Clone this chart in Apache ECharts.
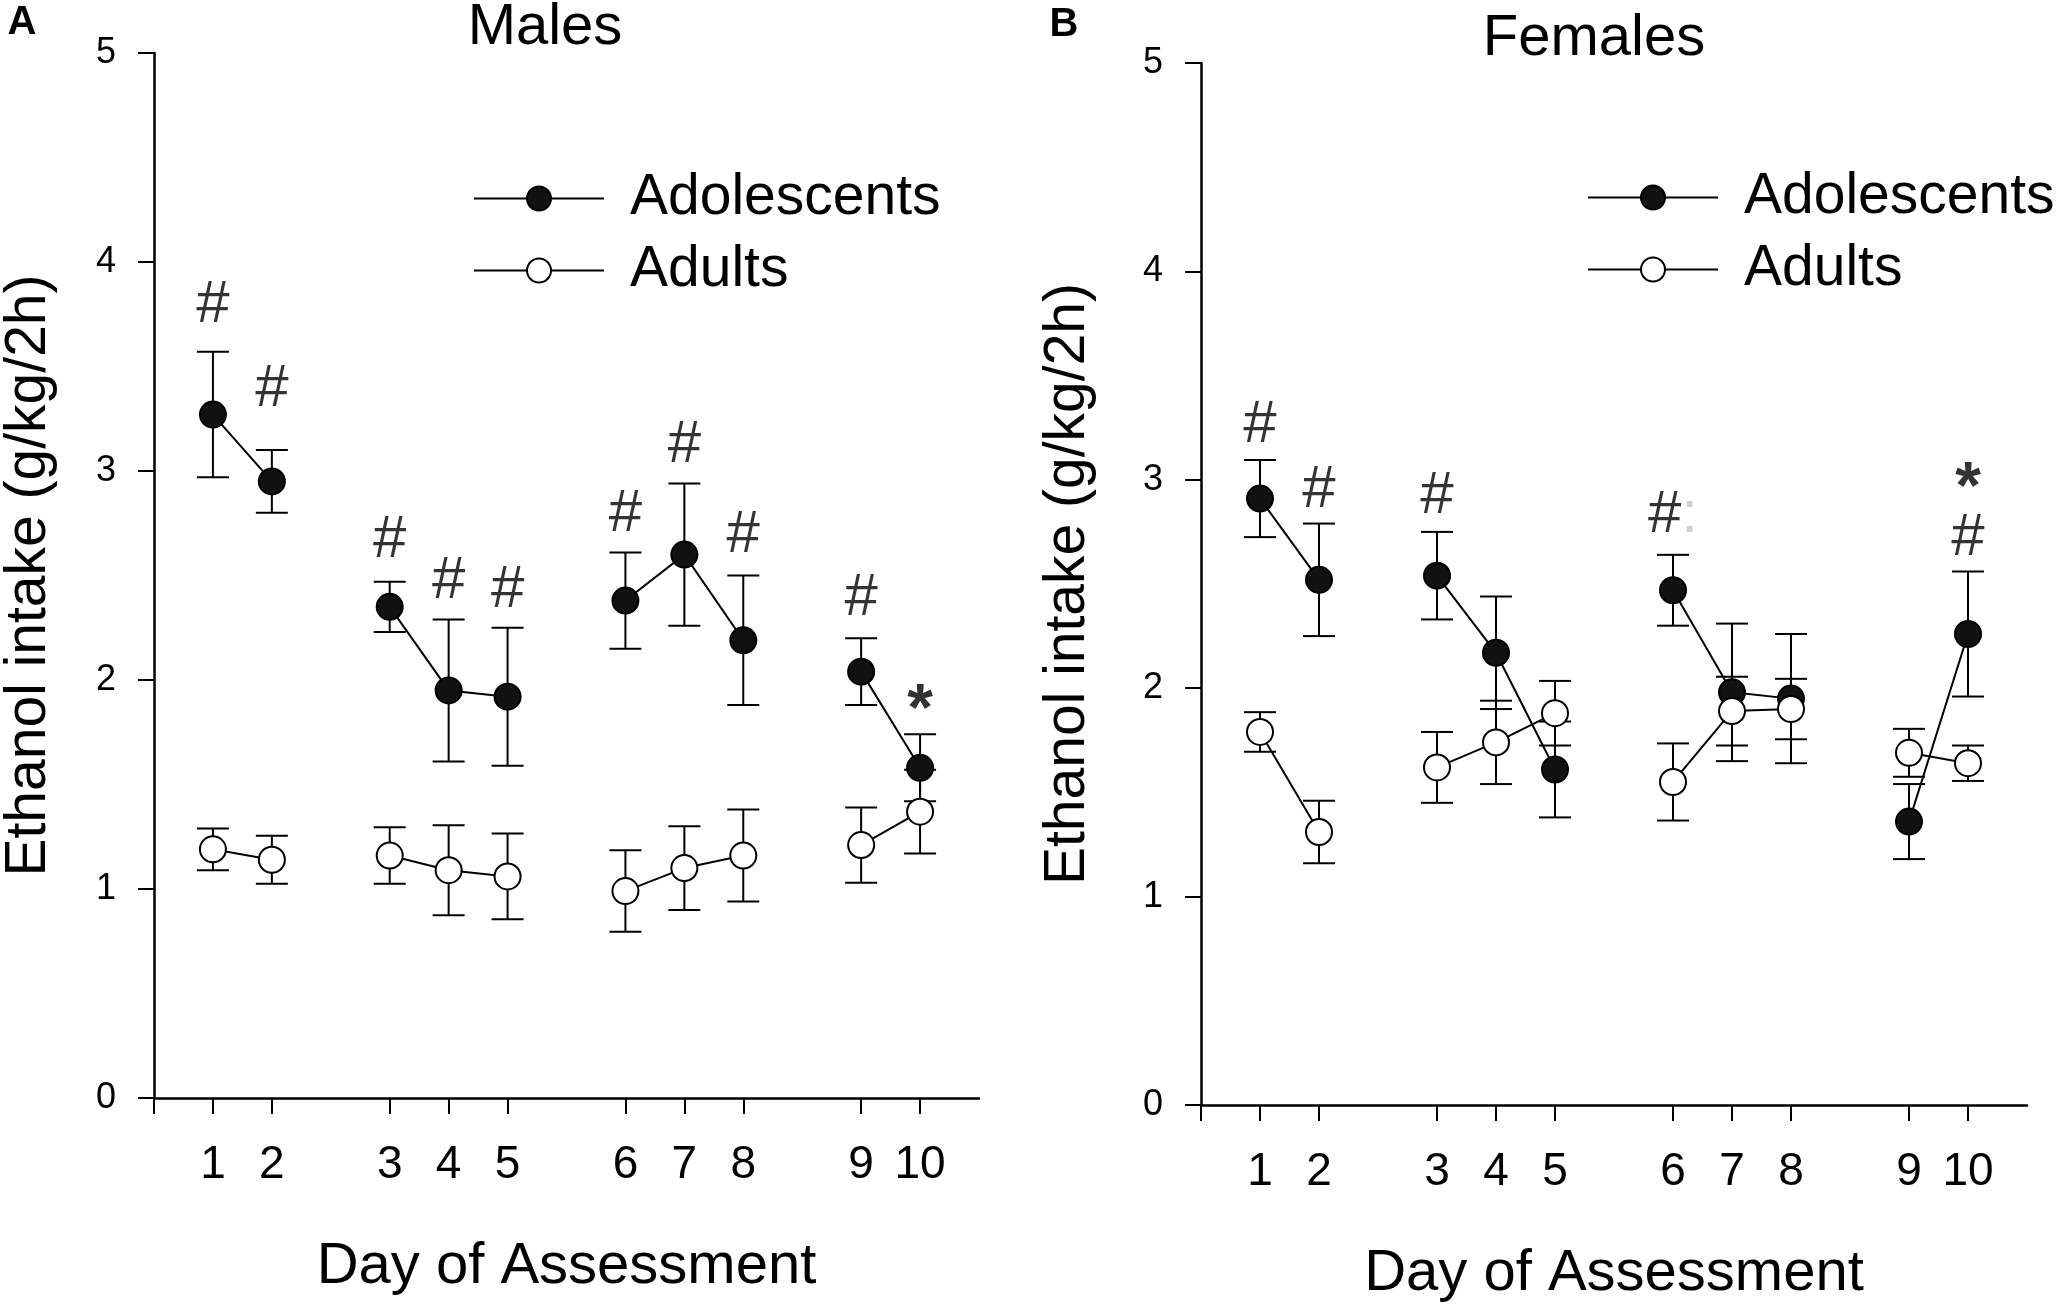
<!DOCTYPE html>
<html style="height: 100%">
<head>
    <meta charset="utf-8">
    <title>Ethanol intake - Males / Females</title>
    <script src="https://cdn.jsdelivr.net/npm/echarts@6/dist/echarts.min.js"></script>
</head>
<body style="height: 100%; margin: 0; background: #fff">
<div id="container" style="width: 2058px; height: 1308px"></div>
<script type="text/javascript">

// days and where they sit on the x axis (gaps between weeks)
var days = [1, 2, 3, 4, 5, 6, 7, 8, 9, 10];
var slots = [1, 2, 4, 5, 6, 8, 9, 10, 12, 13];
var tickSlots = [0, 1, 2, 4, 5, 6, 8, 9, 10, 12, 13];
var yTicks = [0, 1, 2, 3, 4, 5];

// Males (panel A): means and SEM
var maleAdol = [3.27, 2.95, 2.35, 1.95, 1.92, 2.38, 2.60, 2.19, 2.04, 1.58];
var maleAdolErr = [0.30, 0.15, 0.12, 0.34, 0.33, 0.23, 0.34, 0.31, 0.16, 0.16];
var maleAdult = [1.19, 1.14, 1.16, 1.09, 1.06, 0.99, 1.10, 1.16, 1.21, 1.37];
var maleAdultErr = [0.10, 0.115, 0.135, 0.215, 0.205, 0.195, 0.20, 0.22, 0.18, 0.20];

// Females (panel B)
var femAdol = [2.91, 2.52, 2.54, 2.17, 1.61, 2.47, 1.98, 1.95, 1.36, 2.26];
var femAdolErr = [0.185, 0.27, 0.21, 0.27, 0.23, 0.17, 0.33, 0.31, 0.18, 0.30];
var femAdult = [1.79, 1.31, 1.62, 1.74, 1.88, 1.55, 1.89, 1.90, 1.69, 1.64];
var femAdultErr = [0.095, 0.15, 0.17, 0.20, 0.155, 0.185, 0.165, 0.145, 0.115, 0.085];

// significance marks: [day, y, text]
var maleMarks = [[1, 3.79, '#'], [2, 3.39, '#'], [3, 2.67, '#'], [4, 2.47, '#'], [5, 2.43, '#'],
                 [6, 2.79, '#'], [7, 3.12, '#'], [8, 2.69, '#'], [9, 2.39, '#'], [10, 1.85, '*']];
var femMarks = [[1, 3.26, '#'], [2, 2.95, '#'], [3, 2.92, '#'], [6, 2.83, '#:'],
                [10, 2.95, '*'], [10, 2.72, '#']];

var FONT = 'Liberation Sans, Arial, sans-serif';
var dom = document.getElementById('container');
var myChart = echarts.init(dom);

function slotOf(day) {
    return slots[days.indexOf(day)];
}

// line data with breaks between weeks
function lineData(vals) {
    var out = [];
    for (var s = 1; s <= 13; s++) {
        var i = slots.indexOf(s);
        out.push(i < 0 ? [s, '-'] : [s, vals[i]]);
    }
    return out;
}

function errData(vals, err) {
    return vals.map(function (v, i) {
        return [slots[i], v - err[i], v + err[i]];
    });
}

function renderErr(params, api) {
    var x = api.value(0);
    var lo = api.coord([x, api.value(1)]);
    var hi = api.coord([x, api.value(2)]);
    var hw = 16;
    var st = { stroke: '#000', lineWidth: 2 };
    return {
        type: 'group',
        children: [
            { type: 'line', shape: { x1: lo[0], y1: lo[1], x2: hi[0], y2: hi[1] }, style: st },
            { type: 'line', shape: { x1: hi[0] - hw, y1: hi[1], x2: hi[0] + hw, y2: hi[1] }, style: st },
            { type: 'line', shape: { x1: lo[0] - hw, y1: lo[1], x2: lo[0] + hw, y2: lo[1] }, style: st }
        ]
    };
}

function markData(marks) {
    return marks.map(function (m) {
        return { value: [slotOf(m[0]), m[1], m[2]] };
    });
}

function xAxisFor(idx) {
    return {
        type: 'value', gridIndex: idx, min: 0, max: 14,
        name: 'Day of Assessment', nameLocation: 'middle', nameGap: 140,
        nameTextStyle: { fontSize: 58, color: '#000', fontFamily: FONT },
        axisLine: { show: true, onZero: false, lineStyle: { color: '#000', width: 2.5 } },
        axisTick: { show: true, customValues: tickSlots, length: 16, lineStyle: { color: '#000', width: 2 } },
        axisLabel: {
            customValues: slots, margin: 44, fontSize: 46, color: '#000', fontFamily: FONT,
            formatter: function (v) { return String(days[slots.indexOf(v)]); }
        },
        splitLine: { show: false }
    };
}

function yAxisFor(idx, gap) {
    return {
        type: 'value', gridIndex: idx, min: 0, max: 5, interval: 1,
        name: 'Ethanol intake (g/kg/2h)', nameLocation: 'middle', nameGap: gap,
        nameTextStyle: { fontSize: 57, color: '#000', fontFamily: FONT },
        axisLine: { show: true, lineStyle: { color: '#000', width: 2.5 } },
        axisTick: { show: true, length: 16, lineStyle: { color: '#000', width: 2 } },
        axisLabel: {
            margin: 38, fontSize: 36, color: '#000', fontFamily: FONT,
            customValues: yTicks
        },
        splitLine: { show: false }
    };
}

function panelSeries(idx, adol, adolErr, adult, adultErr, marks) {
    var lineBase = {
        type: 'line', xAxisIndex: idx, yAxisIndex: idx,
        symbol: 'circle', symbolSize: 26, connectNulls: false,
        lineStyle: { color: '#000', width: 2 }, z: 3
    };
    return [
        { type: 'custom', name: 'errAdol' + idx, xAxisIndex: idx, yAxisIndex: idx, z: 1,
          renderItem: renderErr, data: errData(adol, adolErr) },
        { type: 'custom', name: 'errAdult' + idx, xAxisIndex: idx, yAxisIndex: idx, z: 1,
          renderItem: renderErr, data: errData(adult, adultErr) },
        Object.assign({}, lineBase, {
            name: 'Adolescents', data: lineData(adol),
            itemStyle: { color: '#111', borderColor: '#000', borderWidth: 2 }
        }),
        Object.assign({}, lineBase, {
            name: 'Adults', data: lineData(adult),
            itemStyle: { color: '#fff', borderColor: '#000', borderWidth: 2 }
        }),
        {
            type: 'scatter', name: 'marks' + idx, xAxisIndex: idx, yAxisIndex: idx, z: 5,
            symbolSize: 1, itemStyle: { color: 'rgba(0,0,0,0)' }, silent: true,
            data: markData(marks),
            label: {
                show: true, position: 'inside', color: '#000', fontSize: 60, fontFamily: FONT,
                formatter: function (p) {
                    var t = p.data.value[2];
                    if (t === '*') return '{b|*}';
                    return t.replace(':', '{g|:}');
                },
                rich: {
                    b: { fontSize: 66, fontWeight: 'bold', color: '#000', fontFamily: FONT },
                    g: { fontSize: 60, color: '#c4c4c4', fontFamily: FONT }
                }
            }
        }
    ];
}

function legendFor(left, top) {
    return {
        orient: 'vertical', left: left, top: top,
        data: ['Adolescents', 'Adults'],
        itemWidth: 130, itemHeight: 30, itemGap: 15,
        selectedMode: false,
        textStyle: { fontSize: 57, color: '#000', fontFamily: FONT, padding: [0, 0, 0, 21] }
    };
}

var option = {
    backgroundColor: '#fff',
    animation: false,
    grid: [
        { left: 154, top: 53, width: 825, height: 1045 },
        { left: 1201, top: 63, width: 826, height: 1044 }
    ],
    xAxis: [xAxisFor(0), xAxisFor(1)],
    yAxis: [yAxisFor(0, 96), yAxisFor(1, 104)],
    legend: [legendFor(468, 165), legendFor(1582, 164)],
    graphic: [
        { type: 'text', x: 22, y: 23, style: { text: 'A', fontSize: 40, fontWeight: 'bold', fontFamily: FONT, fill: '#000', align: 'center', verticalAlign: 'middle' } },
        { type: 'text', x: 1064, y: 25, style: { text: 'B', fontSize: 40, fontWeight: 'bold', fontFamily: FONT, fill: '#000', align: 'center', verticalAlign: 'middle' } },
        { type: 'text', x: 545, y: 28, style: { text: 'Males', fontSize: 58, fontFamily: FONT, fill: '#000', align: 'center', verticalAlign: 'middle' } },
        { type: 'text', x: 1594, y: 39, style: { text: 'Females', fontSize: 58, fontFamily: FONT, fill: '#000', align: 'center', verticalAlign: 'middle' } }
    ],
    series: [].concat(
        panelSeries(0, maleAdol, maleAdolErr, maleAdult, maleAdultErr, maleMarks),
        panelSeries(1, femAdol, femAdolErr, femAdult, femAdultErr, femMarks)
    )
};

myChart.setOption(option);

</script>
</body>
</html>
